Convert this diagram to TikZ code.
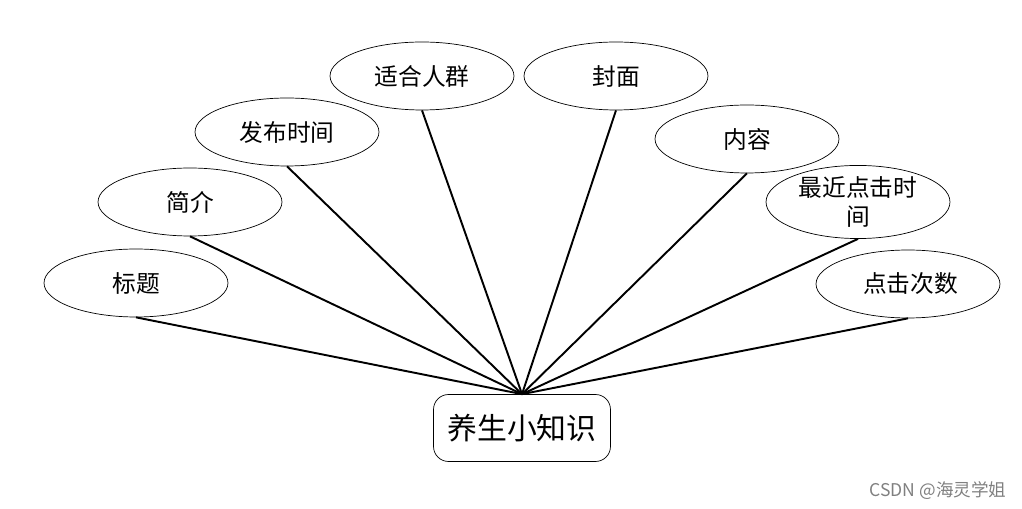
\documentclass[tikz,border=0pt]{standalone}
\usepackage{fontspec}
\usepackage{tikz}
\usetikzlibrary{shapes.geometric}
\newfontfamily\cjk{Noto Sans CJK SC}

\begin{document}
\begin{tikzpicture}[x=0.02cm, y=-0.02cm,
  attr/.style={draw, ellipse, thin, minimum width=3.68cm, minimum height=1.36cm, inner sep=0pt, font=\cjk\fontsize{13.5}{17}\selectfont, align=center},
  entity/.style={draw, rounded corners=0.3cm, thin, minimum width=3.54cm, minimum height=1.34cm, font=\cjk\fontsize{17}{20}\selectfont},
  link/.style={line width=1.1pt}]
  \useasboundingbox (0,0) rectangle (1022,509);
  \node[entity] (main) at (522, 428) {养生小知识};
  \node[attr] (title) at (136, 283) {标题};
  \node[attr] (intro) at (190, 202) {简介};
  \node[attr] (pubtime) at (287, 132) {发布时间};
  \node[attr] (crowd) at (422, 76) {适合人群};
  \node[attr] (cover) at (616, 76) {封面};
  \node[attr] (content) at (747, 139) {内容};
  \node[attr] (lastclick) at (858, 202) {最近点击时\\间};
  \node[attr] (clicks) at (908, 284) {\ 点击次数};
  \foreach \a in {title, intro, pubtime, crowd, cover, content, lastclick, clicks}
    \draw[link] (\a.south) -- (main.north);
  \node[text=gray, font=\cjk\fontsize{10}{12}\selectfont] (mark) at (938, 491) {CSDN @海灵学姐};
\end{tikzpicture}
\end{document}
